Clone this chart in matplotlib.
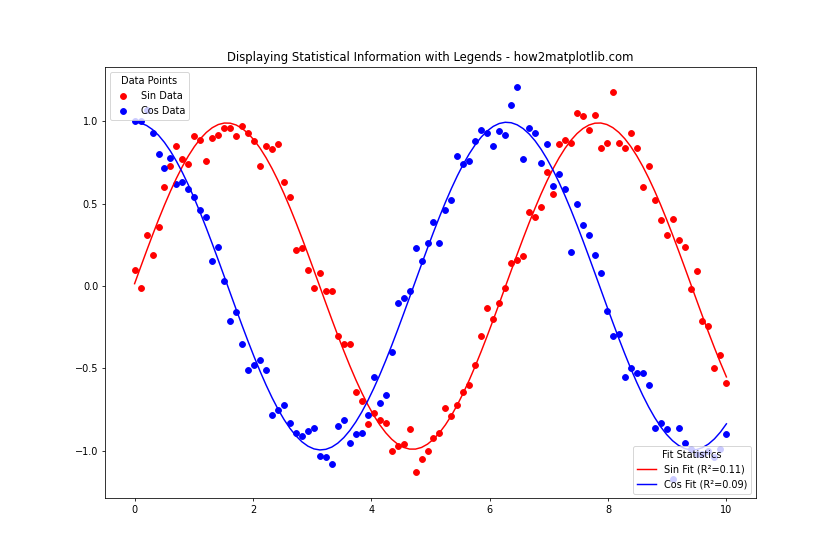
import numpy as np
import matplotlib
matplotlib.use("Agg")
import matplotlib.pyplot as plt

# x grid of the samples (100 evenly spaced points from 0 to 10)
x = np.linspace(0, 10, 100)

# noisy sin samples
sin_data = [
    0.10, -0.01, 0.31, 0.19, 0.36, 0.60, 0.73, 0.85, 0.77, 0.74,
    0.91, 0.89, 0.76, 0.90, 0.92, 0.96, 0.96, 0.91, 0.97, 0.93,
    0.88, 0.73, 0.85, 0.83, 0.86, 0.63, 0.54, 0.22, 0.23, 0.10,
    -0.01, 0.08, -0.03, -0.03, -0.30, -0.35, -0.35, -0.64, -0.70, -0.84,
    -0.77, -0.81, -0.83, -1.00, -0.97, -0.96, -0.87, -1.13, -1.05, -1.00,
    -0.92, -0.89, -0.74, -0.79, -0.72, -0.64, -0.60, -0.48, -0.30, -0.13,
    -0.20, -0.10, -0.01, 0.14, 0.16, 0.18, 0.45, 0.42, 0.48, 0.69,
    0.56, 0.86, 0.89, 0.87, 1.05, 1.03, 0.95, 1.04, 0.84, 0.87,
    1.18, 0.87, 0.84, 0.93, 0.84, 0.60, 0.73, 0.52, 0.40, 0.31,
    0.41, 0.28, 0.24, -0.02, 0.09, -0.21, -0.24, -0.50, -0.42, -0.59,
]

# noisy cos samples
cos_data = [
    1.00, 1.00, 1.07, 0.93, 0.80, 0.72, 0.78, 0.62, 0.63, 0.59,
    0.54, 0.46, 0.42, 0.15, 0.24, 0.03, -0.21, -0.16, -0.35, -0.51,
    -0.48, -0.45, -0.51, -0.78, -0.75, -0.72, -0.83, -0.89, -0.91, -0.88,
    -0.86, -1.03, -1.04, -1.08, -0.85, -0.81, -0.95, -0.90, -0.89, -0.78,
    -0.55, -0.71, -0.66, -0.40, -0.10, -0.07, -0.03, 0.23, 0.15, 0.26,
    0.39, 0.26, 0.46, 0.52, 0.79, 0.74, 0.76, 0.88, 0.95, 0.93,
    0.85, 0.94, 0.92, 1.10, 1.21, 0.77, 0.96, 0.93, 0.75, 0.86,
    0.61, 0.68, 0.59, 0.21, 0.50, 0.37, 0.31, 0.19, 0.08, -0.15,
    -0.30, -0.29, -0.55, -0.50, -0.53, -0.53, -0.60, -0.86, -0.83, -0.87,
    -1.17, -0.86, -0.95, -0.99, -1.02, -1.02, -1.00, -1.04, -0.99, -0.90,
]

fit_labels = ["Sin Fit (R\u00b2=0.11)", "Cos Fit (R\u00b2=0.09)"]


def fit_wave(y):
    # least squares fit of y ~ a*sin(x) + b*cos(x)
    basis = np.column_stack([np.sin(x), np.cos(x)])
    coef, *_ = np.linalg.lstsq(basis, np.array(y), rcond=None)
    return basis @ coef


fig, ax = plt.subplots(figsize=(12, 8), dpi=70)

s1 = ax.scatter(x, sin_data, color="red", label="Sin Data")
s2 = ax.scatter(x, cos_data, color="blue", label="Cos Data")
l1, = ax.plot(x, fit_wave(sin_data), color="red", label=fit_labels[0])
l2, = ax.plot(x, fit_wave(cos_data), color="blue", label=fit_labels[1])

leg1 = ax.legend(handles=[s1, s2], title="Data Points", loc="upper left")
ax.add_artist(leg1)
ax.legend(handles=[l1, l2], title="Fit Statistics", loc="lower right")

ax.set_title("Displaying Statistical Information with Legends - how2matplotlib.com")

fig.savefig("out.png", dpi=70)
